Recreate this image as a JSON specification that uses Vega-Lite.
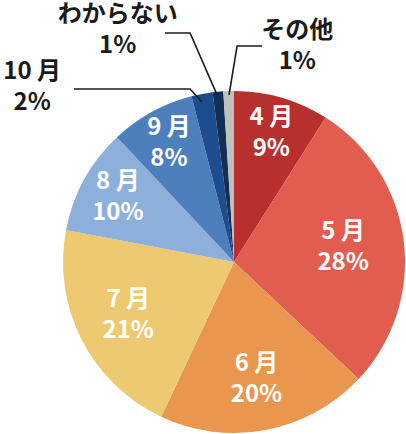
{
  "$schema": "https://vega.github.io/schema/vega-lite/v6.json",
  "description": "Pie chart of shares by month, with callouts for the small slices",
  "width": 342,
  "height": 342,
  "autosize": {"type": "none"},
  "padding": {"left": 63, "top": 91, "right": 1, "bottom": 1},
  "background": "white",
  "config": {
    "view": {"stroke": null},
    "text": {"font": "Noto Sans CJK JP", "fontWeight": "bold"}
  },
  "datasets": {
    "shares": [
      {"no": 1, "month": "4 月", "pct": 9},
      {"no": 2, "month": "5 月", "pct": 28},
      {"no": 3, "month": "6 月", "pct": 20},
      {"no": 4, "month": "7 月", "pct": 21},
      {"no": 5, "month": "8 月", "pct": 10},
      {"no": 6, "month": "9 月", "pct": 8},
      {"no": 7, "month": "10 月", "pct": 2},
      {"no": 8, "month": "わからない", "pct": 1},
      {"no": 9, "month": "その他", "pct": 1}
    ],
    "callouts": [
      {"month": "10 月", "pct": 2, "x": -1.18, "y": 1.02},
      {"month": "わからない", "pct": 1, "x": -0.68, "y": 1.35},
      {"month": "その他", "pct": 1, "x": 0.37, "y": 1.26}
    ],
    "leaders": [
      {"month": "10 月", "step": 1, "x": -0.936, "y": 1.012},
      {"month": "10 月", "step": 2, "x": -0.257, "y": 1.012},
      {"month": "10 月", "step": 3, "x": -0.187, "y": 0.936},
      {"month": "わからない", "step": 1, "x": -0.404, "y": 1.339},
      {"month": "わからない", "step": 2, "x": -0.257, "y": 1.339},
      {"month": "わからない", "step": 3, "x": -0.099, "y": 0.977},
      {"month": "その他", "step": 1, "x": 0.164, "y": 1.263},
      {"month": "その他", "step": 2, "x": 0.018, "y": 1.263},
      {"month": "その他", "step": 3, "x": -0.029, "y": 0.977}
    ]
  },
  "layer": [
    {
      "data": {"name": "shares"},
      "mark": {"type": "arc"},
      "encoding": {
        "theta": {"field": "pct", "type": "quantitative", "stack": true},
        "order": {"field": "no", "type": "quantitative"},
        "color": {
          "field": "month",
          "type": "nominal",
          "legend": null,
          "scale": {
            "domain": ["4 月", "5 月", "6 月", "7 月", "8 月", "9 月", "10 月", "わからない", "その他"],
            "range": ["#b8302d", "#e05d50", "#e9964f", "#edc972", "#8cb0d9", "#4e7fbd", "#1e4d8f", "#142f57", "#bfbfbf"]
          }
        }
      }
    },
    {
      "data": {"name": "shares"},
      "transform": [
        {"calculate": "datum.pct >= 5 ? datum.month + '\\n' + datum.pct + '%' : ''", "as": "label"}
      ],
      "mark": {
        "type": "text",
        "fontSize": 24,
        "lineBreak": "\n",
        "lineHeight": 31,
        "dy": -16,
        "align": "center",
        "baseline": "middle",
        "color": "white"
      },
      "encoding": {
        "theta": {"field": "pct", "type": "quantitative", "stack": true},
        "order": {"field": "no", "type": "quantitative"},
        "radius": {"field": "pct", "type": "quantitative", "scale": {"type": "linear", "zero": false, "domain": [8, 28], "range": [135, 110]}},
        "text": {"field": "label", "type": "nominal"}
      }
    },
    {
      "data": {"name": "leaders"},
      "mark": {"type": "line", "color": "#1a1a1a", "strokeWidth": 1.6},
      "encoding": {
        "x": {"field": "x", "type": "quantitative", "axis": null, "scale": {"domain": [-1, 1], "nice": false, "zero": false}},
        "y": {"field": "y", "type": "quantitative", "axis": null, "scale": {"domain": [-1, 1], "nice": false, "zero": false}},
        "detail": {"field": "month", "type": "nominal"},
        "order": {"field": "step", "type": "quantitative"}
      }
    },
    {
      "data": {"name": "callouts"},
      "transform": [
        {"calculate": "datum.month + '\\n' + datum.pct + '%'", "as": "label"}
      ],
      "mark": {
        "type": "text",
        "fontSize": 24,
        "lineBreak": "\n",
        "lineHeight": 31,
        "dy": -16,
        "align": "center",
        "baseline": "middle",
        "color": "#1a1a1a"
      },
      "encoding": {
        "x": {"field": "x", "type": "quantitative", "axis": null, "scale": {"domain": [-1, 1], "nice": false, "zero": false}},
        "y": {"field": "y", "type": "quantitative", "axis": null, "scale": {"domain": [-1, 1], "nice": false, "zero": false}},
        "text": {"field": "label", "type": "nominal"}
      }
    }
  ]
}
